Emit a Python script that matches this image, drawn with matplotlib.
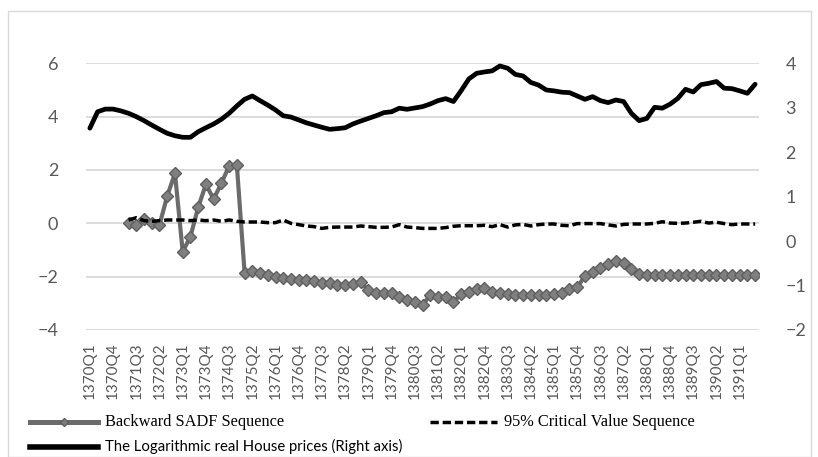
import numpy as np
import matplotlib
matplotlib.use("Agg")
import matplotlib.pyplot as plt
from matplotlib.lines import Line2D
from matplotlib.patches import Rectangle

nan = np.nan

# 季度类别 1370Q1 .. 1391Q3
quarters = [f"{y}Q{q}" for y in range(1370, 1392) for q in range(1, 5)][:87]

# 对数实际房价（右轴）
log_price = [
    2.54, 2.91, 2.97, 2.97, 2.93, 2.875, 2.80, 2.71, 2.61, 2.515,
    2.425, 2.37, 2.335, 2.335, 2.46, 2.55, 2.635, 2.74, 2.875, 3.04,
    3.19, 3.265, 3.16, 3.06, 2.95, 2.82, 2.79, 2.725, 2.66, 2.61,
    2.56, 2.515, 2.53, 2.55, 2.635, 2.70, 2.76, 2.82, 2.89, 2.91,
    2.99, 2.965, 2.995, 3.025, 3.085, 3.16, 3.205, 3.14, 3.385, 3.65,
    3.775, 3.805, 3.83, 3.94, 3.89, 3.75, 3.715, 3.57, 3.51, 3.40,
    3.38, 3.35, 3.34, 3.265, 3.19, 3.25, 3.16, 3.115, 3.175, 3.14,
    2.875, 2.71, 2.76, 3.01, 2.99, 3.08, 3.21, 3.415, 3.355, 3.52,
    3.55, 3.59, 3.44, 3.43, 3.38, 3.325, 3.53,
]

# Backward SADF（左轴），从 1371Q2 开始
sadf = [nan] * 5 + [
    0.025, -0.06, 0.15, 0.025, -0.06, 1.025, 1.875, -1.06, -0.5, 0.6,
    1.46, 0.91, 1.5, 2.15, 2.19, -1.85, -1.79, -1.85, -1.94, -2.0,
    -2.04, -2.09, -2.125, -2.14, -2.16, -2.25, -2.25, -2.31, -2.31, -2.29,
    -2.21, -2.5, -2.625, -2.625, -2.625, -2.775, -2.875, -2.96, -3.06, -2.69,
    -2.75, -2.775, -2.94, -2.66, -2.56, -2.475, -2.44, -2.56, -2.625, -2.66,
    -2.69, -2.69, -2.69, -2.69, -2.69, -2.66, -2.6, -2.475, -2.4, -1.975,
    -1.81, -1.69, -1.54, -1.41, -1.5, -1.725, -1.9, -1.94, -1.94, -1.94,
    -1.94, -1.94, -1.94, -1.94, -1.94, -1.94, -1.94, -1.94, -1.94, -1.94,
    -1.94, -1.92,
]

# 95% 临界值（左轴）
critical = [nan] * 5 + [
    0.125, 0.21, 0.10, 0.075, 0.10, 0.125, 0.125, 0.125, 0.10, 0.125,
    0.10, 0.125, 0.075, 0.125, 0.075, 0.05, 0.05, 0.05, 0.025, 0.025,
    0.125, 0.0, -0.05, -0.1, -0.125, -0.19, -0.15, -0.14, -0.14, -0.14,
    -0.1, -0.125, -0.15, -0.15, -0.14, -0.05, -0.14, -0.16, -0.19, -0.19,
    -0.19, -0.16, -0.11, -0.09, -0.09, -0.09, -0.075, -0.125, -0.05, -0.14,
    -0.06, -0.04, -0.1, -0.05, -0.025, -0.025, -0.075, -0.09, -0.01, -0.01,
    -0.01, -0.01, -0.06, -0.1, -0.04, -0.025, -0.025, -0.025, 0.0, 0.06,
    0.01, 0.0, 0.01, 0.04, 0.075, 0.01, 0.04, -0.01, -0.05, -0.025,
    -0.025, -0.025,
]

left_ticks = [-4, -2, 0, 2, 4, 6]
right_ticks = [-2, -1, 0, 1, 2, 3, 4]

TICK_COLOR = "#595959"
GRID_COLOR = "#d9d9d9"
SADF_COLOR = "#6b6b6b"
TICK_FONT = "Lato"

W, H = 818, 457
fig = plt.figure(figsize=(W / 100, H / 100), dpi=100)

# 图表外框
fig.add_artist(Rectangle((8 / W, 0), 803 / W, 1 - 11 / H, transform=fig.transFigure,
                         fill=False, edgecolor=GRID_COLOR, linewidth=1.0))

ax = fig.add_axes([86 / W, 1 - 330 / H, 673 / W, 266.7 / H])
x = np.arange(len(quarters))

ax.plot(x, sadf, color=SADF_COLOR, linewidth=3.0, marker="D", markersize=6,
        markerfacecolor="#7f7f7f", markeredgecolor="#5f5f5f", markeredgewidth=1.0,
        zorder=3)
crit_line, = ax.plot(x, critical, color="black", linewidth=2.5, zorder=4)
crit_line.set_dashes([2.4, 1.1])

ax.set_xlim(-0.5, len(quarters) - 0.5)
ax.set_ylim(-4, 6)
ax.set_yticks(left_ticks)
ax.set_xticks(x[::3])
ax.set_xticklabels(quarters[::3], rotation=90, fontsize=11, family=TICK_FONT,
                   color=TICK_COLOR)
ax.tick_params(axis="x", length=0, pad=9)
ax.tick_params(axis="y", length=0, pad=20, labelsize=13, labelcolor=TICK_COLOR)
for t in ax.get_yticklabels():
    t.set_family(TICK_FONT)
ax.grid(axis="y", color=GRID_COLOR, linewidth=1.3)
ax.set_axisbelow(True)
for s in ax.spines.values():
    s.set_visible(False)

ax2 = ax.twinx()
ax2.plot(x, log_price, color="black", linewidth=3.4, solid_joinstyle="round",
         solid_capstyle="round")
ax2.set_ylim(-2, 4)
ax2.set_yticks(right_ticks)
ax2.tick_params(axis="y", length=0, pad=19, labelsize=13, labelcolor=TICK_COLOR)
for t in ax2.get_yticklabels():
    t.set_family(TICK_FONT)
for s in ax2.spines.values():
    s.set_visible(False)


# 图例（手动摆放）
def legend_entry(x0, x1, y, text, family, size, **line_kw):
    yf = 1 - y / H
    line = Line2D([x0 / W, x1 / W], [yf, yf], transform=fig.transFigure, **line_kw)
    fig.add_artist(line)
    fig.text((x1 + 7) / W, yf, text, ha="left", va="center", family=family,
             fontsize=size, color="black")
    return line


legend_entry(30, 98, 421.5, "Backward SADF Sequence", "Liberation Serif", 11.8,
             color=SADF_COLOR, linewidth=3.6)
# 菱形标记放在图例线段中间
fig.add_artist(Line2D([64 / W], [1 - 421.5 / H], transform=fig.transFigure, marker="D",
                      markersize=4, markerfacecolor="#7f7f7f", markeredgecolor="#5f5f5f"))
dl = legend_entry(430, 497, 421.5, "95% Critical Value Sequence", "Liberation Serif", 11.8,
                  color="black", linewidth=2.5)
dl.set_dashes([2.4, 1.1])
legend_entry(30, 98, 446.5, "The Logarithmic real House prices (Right axis)", "Lato", 10.7,
             color="black", linewidth=4.0)

fig.savefig("out.png", dpi=100)
plt.close(fig)
